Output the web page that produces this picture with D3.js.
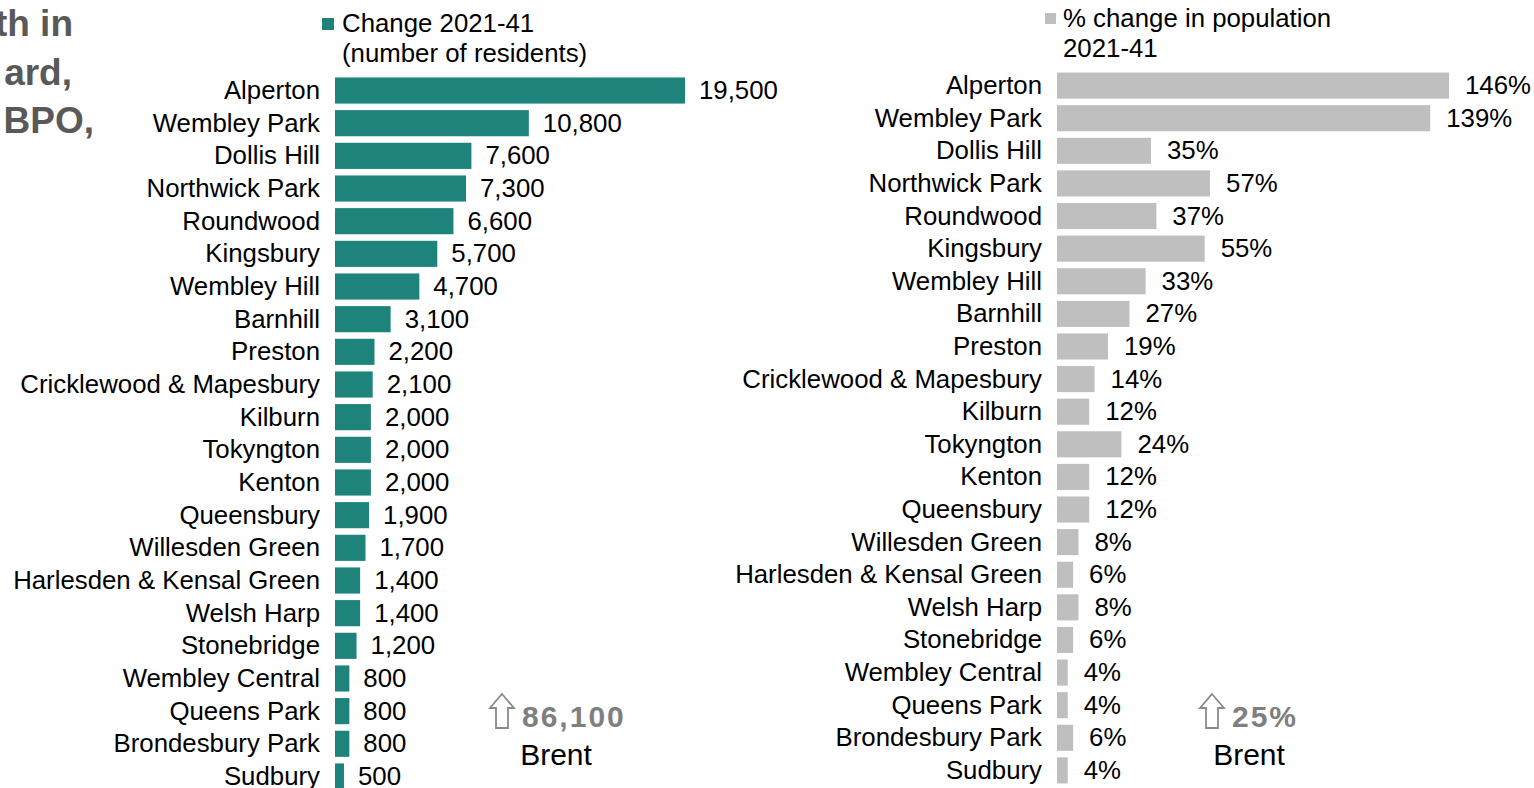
<!DOCTYPE html>
<html><head><meta charset="utf-8">
<script src="https://cdn.jsdelivr.net/npm/d3@7"></script>
<style>html,body{margin:0;padding:0;background:#fff;overflow:hidden}svg{display:block;font-family:"Liberation Sans",Arial,sans-serif}</style>
</head><body><svg id="c" width="1534" height="788"></svg>
<script>
const wards = ["Alperton","Wembley Park","Dollis Hill","Northwick Park","Roundwood","Kingsbury","Wembley Hill","Barnhill","Preston","Cricklewood & Mapesbury","Kilburn","Tokyngton","Kenton","Queensbury","Willesden Green","Harlesden & Kensal Green","Welsh Harp","Stonebridge","Wembley Central","Queens Park","Brondesbury Park","Sudbury"];
const changeResidents = [19500,10800,7600,7300,6600,5700,4700,3100,2200,2100,2000,2000,2000,1900,1700,1400,1400,1200,800,800,800,500];
const changePct = [146,139,35,57,37,55,33,27,19,14,12,24,12,12,8,6,8,6,4,4,6,4];
const legendLeft = ["Change 2021-41","(number of residents)"];
const legendRight = ["% change in population","2021-41"];
const titleFragments = ["th in","ard,","BPO,"];
const totalResidents = "86,100";
const totalPct = "25%";
const areaName = "Brent";

const svg = d3.select("#c");
const TEAL = "#1e847b", GREY = "#bfbfbf";
const fmt = d3.format(",");
const FS = 25.8;

// title fragments (clipped heading)
const tf = [[73,36],[72,85],[94,133]];
svg.selectAll("text.title").data(titleFragments).join("text").attr("class","title")
  .attr("x",(d,i)=>tf[i][0]).attr("y",(d,i)=>tf[i][1]).attr("text-anchor","end")
  .attr("font-size",37).attr("font-weight","bold").attr("fill","#595959").text(d=>d);

function panel(cfg){
  const g = svg.append("g");
  const y = d3.scaleBand().domain(wards).range(cfg.yr).paddingInner(0.2).paddingOuter(0.1);
  const x = d3.scaleLinear().domain([0,cfg.max]).range([cfg.x0,cfg.x1]);
  const data = wards.map((w,i)=>({w,v:cfg.vals[i]}));
  g.selectAll("rect.bar").data(data).join("rect").attr("class","bar")
    .attr("x",x(0)).attr("y",d=>y(d.w)).attr("width",d=>x(d.v)-x(0)).attr("height",y.bandwidth()).attr("fill",cfg.color);
  const ax = d3.axisLeft(y).tickSize(0).tickPadding(cfg.x0-cfg.labelX);
  const a = g.append("g").attr("transform",`translate(${cfg.x0},0)`).call(ax);
  a.select(".domain").remove();
  a.selectAll("text").attr("font-size",FS).attr("fill","#000").attr("font-family","Liberation Sans, Arial, sans-serif").attr("dy","0.33em");
  g.selectAll("text.val").data(data).join("text").attr("class","val")
    .attr("x",d=>x(d.v)+cfg.vpad).attr("y",d=>y(d.w)+y.bandwidth()/2).attr("dy","0.33em")
    .attr("font-size",FS).attr("fill","#000").text(d=>cfg.fmt(d.v));
  // legend
  g.append("rect").attr("x",cfg.lg[0]).attr("y",cfg.lg[1]).attr("width",cfg.lg[2]).attr("height",cfg.lg[2]).attr("fill",cfg.color);
  g.selectAll("text.lg").data(cfg.legend).join("text").attr("class","lg")
    .attr("x",cfg.lg[3]).attr("y",(d,i)=>cfg.lg[4]+i*30).attr("font-size",FS).attr("fill","#000").text(d=>d);
  // annotation
  const [ax0, ay0] = cfg.arrow;
  const arrowPath = `M${ax0},${ay0} L${ax0+12},${ay0+14} L${ax0+6},${ay0+14} L${ax0+6},${ay0+34} L${ax0-6},${ay0+34} L${ax0-6},${ay0+14} L${ax0-12},${ay0+14} Z`;
  g.append("path").attr("d",arrowPath).attr("fill","#fff").attr("stroke","#8a8a8a").attr("stroke-width",1.8);
  g.append("text").attr("x",ax0+20).attr("y",ay0+33).attr("font-size",30).attr("font-weight","bold")
    .attr("letter-spacing",cfg.ls).attr("fill","#7f7f7f").text(cfg.total);
  g.append("text").attr("x",cfg.brentX).attr("y",ay0+71).attr("text-anchor","middle").attr("font-size",30).attr("fill","#000").text(areaName);
}

panel({vals:changeResidents,max:19500,x0:335,x1:685,yr:[74.2,792.8],labelX:320,color:TEAL,vpad:14,fmt:fmt,
  legend:legendLeft,lg:[322,18,12,342,32],arrow:[502,694],total:totalResidents,brentX:556,ls:2});
panel({vals:changePct,max:146,x0:1057,x1:1449,yr:[69.3,786.7],labelX:1042,color:GREY,vpad:16,fmt:d=>d+"%",
  legend:legendRight,lg:[1045,13,11,1063,27],arrow:[1212,694],total:totalPct,brentX:1249,ls:2});
</script></body></html>
